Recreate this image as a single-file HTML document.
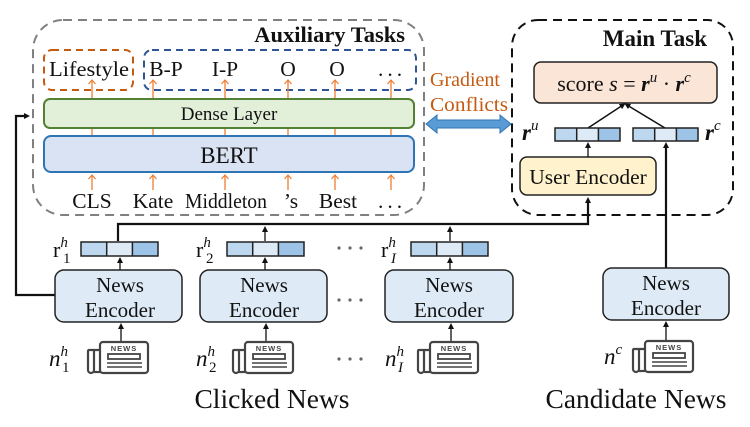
<!DOCTYPE html>
<html><head><meta charset="utf-8"><style>
html,body{margin:0;padding:0;background:#fff}
svg{display:block}
text{font-family:"Liberation Serif",serif;fill:#111}
</style></head><body>
<svg width="750" height="427" viewBox="0 0 750 427" xmlns="http://www.w3.org/2000/svg">
<defs>
<marker id="ao" markerWidth="8" markerHeight="8" refX="4" refY="1" orient="0" markerUnits="userSpaceOnUse"><path d="M0.5,5 L4,1 L7.5,5" fill="none" stroke="#ed7d31" stroke-width="1.2"/></marker>
<marker id="ab" markerWidth="8" markerHeight="8" refX="3" refY="3" orient="auto" markerUnits="userSpaceOnUse"><path d="M0,0 L6,3 L0,6 z" fill="#111"/></marker>
<g id="vec"><rect x="0" y="0" width="25.7" height="14" fill="#bdd7ee"/><rect x="25.7" y="0" width="25.7" height="14" fill="#deebf7"/><rect x="51.4" y="0" width="25.6" height="14" fill="#9dc3e6"/><rect x="0" y="0" width="77" height="14" fill="none" stroke="#222" stroke-width="1.5"/><line x1="25.7" y1="0" x2="25.7" y2="14" stroke="#222" stroke-width="1.5"/><line x1="51.4" y1="0" x2="51.4" y2="14" stroke="#222" stroke-width="1.5"/></g>
<g id="vecs"><rect x="0" y="0" width="21.7" height="13" fill="#bdd7ee"/><rect x="21.7" y="0" width="21.7" height="13" fill="#deebf7"/><rect x="43.4" y="0" width="21.6" height="13" fill="#9dc3e6"/><rect x="0" y="0" width="65" height="13" fill="none" stroke="#222" stroke-width="1.5"/><line x1="21.7" y1="0" x2="21.7" y2="13" stroke="#222" stroke-width="1.5"/><line x1="43.4" y1="0" x2="43.4" y2="13" stroke="#222" stroke-width="1.5"/></g>
<g id="news"><path d="M13,9 H2 a1,1 0 0 0 -1,1 V29 a3,3 0 0 0 6,0 V9" fill="none" stroke="#444" stroke-width="2.2"/><rect x="13" y="1" width="48" height="31" rx="3" fill="#fff" stroke="#444" stroke-width="2.2"/><path d="M7,31 H14" stroke="#444" stroke-width="2.2"/><text x="37" y="10" font-size="7.5" font-weight="bold" text-anchor="middle" style="font-family:'Liberation Sans',sans-serif;fill:#444" letter-spacing="1">NEWS</text><rect x="21" y="13" width="32" height="5" fill="none" stroke="#444" stroke-width="1.8"/><line x1="20" y1="22" x2="55" y2="22" stroke="#444" stroke-width="1.6"/><line x1="20" y1="26" x2="55" y2="26" stroke="#444" stroke-width="1.6"/></g>
</defs>

<rect x="33" y="20" width="391" height="195" rx="30" fill="none" stroke="#808080" stroke-width="2" stroke-dasharray="9,6"/>
<text x="405" y="42" font-size="22.5" font-weight="bold" text-anchor="end">Auxiliary Tasks</text>
<rect x="44" y="50" width="89" height="40" rx="8" fill="none" stroke="#c55a11" stroke-width="2" stroke-dasharray="7,5"/>
<rect x="144" y="50" width="272" height="40" rx="8" fill="none" stroke="#2f5597" stroke-width="2" stroke-dasharray="7,5"/>
<g font-size="21.5">
<text x="89" y="76" text-anchor="middle" textLength="80" lengthAdjust="spacingAndGlyphs">Lifestyle</text>
<text x="166" y="76" text-anchor="middle">B-P</text>
<text x="225" y="76" text-anchor="middle">I-P</text>
<text x="288" y="76" text-anchor="middle">O</text>
<text x="337" y="76" text-anchor="middle">O</text>
<text x="392" y="76" text-anchor="middle" letter-spacing="4">...</text>
</g>
<g stroke="#ed7d31" stroke-width="1.3" marker-end="url(#ao)">
<line x1="92" y1="99" x2="92" y2="80"/><line x1="153" y1="99" x2="153" y2="80"/><line x1="225" y1="99" x2="225" y2="80"/><line x1="288" y1="99" x2="288" y2="80"/><line x1="335" y1="99" x2="335" y2="80"/><line x1="391" y1="99" x2="391" y2="80"/>
<line x1="92" y1="190" x2="92" y2="175"/><line x1="153" y1="190" x2="153" y2="175"/><line x1="225" y1="190" x2="225" y2="175"/><line x1="288" y1="190" x2="288" y2="175"/><line x1="335" y1="190" x2="335" y2="175"/><line x1="391" y1="190" x2="391" y2="175"/>
</g>
<g stroke="#ed7d31" stroke-width="1.3">
<line x1="92" y1="128" x2="92" y2="136"/><line x1="153" y1="128" x2="153" y2="136"/><line x1="225" y1="128" x2="225" y2="136"/><line x1="288" y1="128" x2="288" y2="136"/><line x1="335" y1="128" x2="335" y2="136"/><line x1="391" y1="128" x2="391" y2="136"/>
</g>
<rect x="44" y="99" width="370" height="29" rx="6" fill="#e2efd9" stroke="#548235" stroke-width="2"/>
<text x="229" y="120" font-size="19" text-anchor="middle">Dense Layer</text>
<rect x="44" y="136" width="370" height="36" rx="7" fill="#dae3f3" stroke="#2e75b6" stroke-width="2"/>
<text x="229" y="163" font-size="23" text-anchor="middle">BERT</text>
<g font-size="21.5">
<text x="92" y="208" text-anchor="middle">CLS</text>
<text x="153" y="208" text-anchor="middle">Kate</text>
<text x="226" y="208" text-anchor="middle" textLength="82" lengthAdjust="spacingAndGlyphs">Middleton</text>
<text x="291" y="208" text-anchor="middle">’s</text>
<text x="338" y="208" text-anchor="middle">Best</text>
<text x="392" y="208" text-anchor="middle" letter-spacing="4">...</text>
</g>

<text x="430" y="86" font-size="20" style="fill:#c55a11">Gradient</text>
<text x="430" y="111" font-size="20" style="fill:#c55a11" textLength="78" lengthAdjust="spacingAndGlyphs">Conflicts</text>
<path d="M426,124 L437,115 L437,120 L500,120 L500,115 L511,124 L500,133 L500,128 L437,128 L437,133 Z" fill="#5b9bd5" stroke="#2e75b6" stroke-width="1"/>

<rect x="512" y="20" width="221" height="195" rx="26" fill="none" stroke="#111" stroke-width="2" stroke-dasharray="9,6"/>
<text x="707" y="46" font-size="23" font-weight="bold" text-anchor="end">Main Task</text>
<rect x="534" y="62" width="183" height="41" rx="7" fill="#fbe5d6" stroke="#222" stroke-width="1.5"/>
<text x="624" y="91" font-size="22" text-anchor="middle">score <tspan font-style="italic">s</tspan> = <tspan font-weight="bold" font-style="italic">r</tspan><tspan font-size="15" dy="-9" font-style="italic">u</tspan><tspan dy="9"> · </tspan><tspan font-weight="bold" font-style="italic">r</tspan><tspan font-size="15" dy="-9" font-style="italic">c</tspan></text>
<line x1="588" y1="128" x2="623" y2="105" stroke="#111" stroke-width="1.5" marker-end="url(#ab)"/>
<line x1="665" y1="128" x2="627" y2="105" stroke="#111" stroke-width="1.5" marker-end="url(#ab)"/>
<text x="522" y="140" font-size="23" font-weight="bold" font-style="italic">r<tspan font-size="15" dy="-10" font-weight="normal">u</tspan></text>
<use href="#vecs" x="555" y="128"/>
<use href="#vecs" x="633" y="128"/>
<text x="705" y="140" font-size="23" font-weight="bold" font-style="italic">r<tspan font-size="15" dy="-10" font-weight="normal">c</tspan></text>
<rect x="520" y="157" width="136" height="38" rx="7" fill="#fff2cc" stroke="#222" stroke-width="1.5"/>
<text x="588" y="184" font-size="21.5" text-anchor="middle">User Encoder</text>
<line x1="588" y1="157" x2="588" y2="145" stroke="#111" stroke-width="1.3" marker-end="url(#ab)"/>

<path d="M118,241 V224 H588 V200" fill="none" stroke="#111" stroke-width="2.2" marker-end="url(#ab)"/>
<line x1="666" y1="268" x2="666" y2="145" stroke="#111" stroke-width="2.2" marker-end="url(#ab)"/>
<path d="M55,295 H16 V116 H27" fill="none" stroke="#111" stroke-width="2.2" marker-end="url(#ab)"/>
<g stroke="#111" stroke-width="1.3" marker-end="url(#ab)">
<line x1="265" y1="241" x2="265" y2="229"/>
<line x1="450" y1="241" x2="450" y2="229"/>
<line x1="120" y1="270" x2="120" y2="260"/>
<line x1="265" y1="270" x2="265" y2="260"/>
<line x1="450" y1="270" x2="450" y2="260"/>
<line x1="121" y1="342" x2="121" y2="326"/>
<line x1="266" y1="342" x2="266" y2="326"/>
<line x1="451" y1="342" x2="451" y2="326"/>
<line x1="666" y1="340" x2="666" y2="324"/>
</g>

<use href="#vec" x="81" y="242"/>
<use href="#vec" x="227" y="242"/>
<use href="#vec" x="411" y="242"/>
<g font-size="22">
<text x="53" y="257">r<tspan font-size="15" font-style="italic" dy="-10">h</tspan><tspan font-size="15" x="63" dy="16">1</tspan></text>
<text x="196" y="257">r<tspan font-size="15" font-style="italic" dy="-10">h</tspan><tspan font-size="15" x="206" dy="16">2</tspan></text>
<text x="381" y="257">r<tspan font-size="15" font-style="italic" dy="-10">h</tspan><tspan font-size="15" font-style="italic" x="391" dy="16">I</tspan></text>
</g>

<g fill="#deebf7" stroke="#222" stroke-width="1.5">
<rect x="55" y="270" width="127" height="52" rx="9"/>
<rect x="200" y="270" width="127" height="52" rx="9"/>
<rect x="385" y="270" width="128" height="52" rx="9"/>
<rect x="603" y="268" width="126" height="52" rx="9"/>
</g>
<g font-size="21" text-anchor="middle">
<text x="120" y="292">News</text><text x="120" y="317">Encoder</text>
<text x="264" y="292">News</text><text x="264" y="317">Encoder</text>
<text x="449" y="292">News</text><text x="449" y="317">Encoder</text>
<text x="666" y="290">News</text><text x="666" y="315">Encoder</text>
</g>

<g fill="#666"><circle cx="339" cy="248" r="1.6"/><circle cx="350" cy="248" r="1.6"/><circle cx="361" cy="248" r="1.6"/>
<circle cx="339" cy="300" r="1.6"/><circle cx="350" cy="300" r="1.6"/><circle cx="361" cy="300" r="1.6"/>
<circle cx="339" cy="359" r="1.6"/><circle cx="350" cy="359" r="1.6"/><circle cx="361" cy="359" r="1.6"/></g>

<use href="#news" x="87" y="341"/>
<use href="#news" x="232" y="341"/>
<use href="#news" x="417" y="341"/>
<use href="#news" x="632" y="340"/>
<g font-size="23" font-style="italic">
<text x="49" y="366">n<tspan font-size="15" dy="-10">h</tspan><tspan font-size="15" font-style="normal" x="62" dy="16">1</tspan></text>
<text x="196" y="366">n<tspan font-size="15" dy="-10">h</tspan><tspan font-size="15" font-style="normal" x="209" dy="16">2</tspan></text>
<text x="385" y="366">n<tspan font-size="15" dy="-10">h</tspan><tspan font-size="15" x="398" dy="16">I</tspan></text>
<text x="604" y="364">n<tspan font-size="15" dy="-10">c</tspan></text>
</g>

<text x="272" y="408" font-size="27.5" text-anchor="middle">Clicked News</text>
<text x="636" y="408" font-size="27.5" text-anchor="middle">Candidate News</text>
</svg>
</body></html>
